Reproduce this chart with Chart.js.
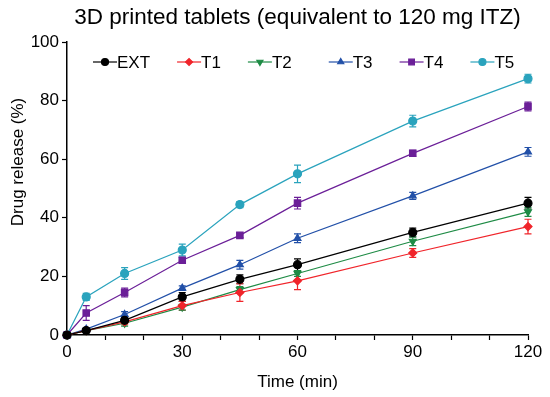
<!DOCTYPE html>
<html>
<head>
<meta charset="utf-8">
<script src="https://cdn.jsdelivr.net/npm/chart.js@4/dist/chart.umd.min.js"></script>
<style>
  html, body { margin: 0; padding: 0; background: #fff; }
  #wrap { width: 550px; height: 397px; }
</style>
</head>
<body>
<div id="wrap"><canvas id="releaseChart"></canvas></div>
<script>
// dissolution profiles
const times = [0, 5, 15, 30, 45, 60, 90, 120]

const ext = [0, 1.5, 5, 13, 19, 24, 35, 45]
const t1 = [0, 1.5, 4.5, 10, 14.5, 18.5, 28, 37]
const t2 = [0, 1.5, 4, 9.5, 15.5, 21, 32, 42]
const t3 = [0, 2, 7, 16, 24, 33, 47.5, 62.5]
const t4 = [0, 7.5, 14.5, 25.5, 34, 45, 62, 78]
const t5 = [0, 13, 21, 29, 44.5, 55, 73, 87.5]

// standard deviations (error bars)
const extSd = [0, 0.5, 1, 1.5, 1.5, 2, 1.5, 2]
const t1Sd = [0, 0.5, 1, 1.5, 3, 3, 1.5, 2.5]
const t2Sd = [0, 0.5, 1, 1, 1, 1, 1.5, 1.5]
const t3Sd = [0, 0.5, 1, 0.8, 1.5, 1.5, 1.2, 1.5]
const t4Sd = [0, 2.5, 1.5, 1, 0.8, 2, 1, 1.5]
const t5Sd = [0, 1.2, 2, 2, 1, 3, 2, 1.5]

const yTicks = [0, 20, 40, 60, 80, 100]
const xLabelTicks = [0, 30, 60, 90, 120]

const FONT = 'Arial, "Liberation Sans", sans-serif'

function makeSet(label, values, sd, color, style, rotation) {
    return {
        label: label,
        data: values.map((v, i) => ({ x: times[i], y: v })),
        sd: sd,
        borderColor: color,
        backgroundColor: color,
        pointBackgroundColor: color,
        pointBorderColor: color,
        pointStyle: style,
        rotation: rotation || 0,
        pointRadius: style === 'rect' ? 4.5 : 4,
        borderWidth: 1.2,
        showLine: true,
        fill: false,
        clip: false
    }
}

// error bars drawn through the scales, under the markers
const errorBars = {
    id: 'errorBars',
    beforeDatasetsDraw(chart) {
        const ctx = chart.ctx
        const xs = chart.scales.x, ys = chart.scales.y
        chart.data.datasets.forEach(ds => {
            ctx.save()
            ctx.strokeStyle = ds.borderColor
            ctx.lineWidth = 1.2
            ds.data.forEach((p, i) => {
                const e = ds.sd[i]
                if (!e) return
                const px = xs.getPixelForValue(p.x)
                const top = ys.getPixelForValue(p.y + e)
                const bot = ys.getPixelForValue(p.y - e)
                ctx.beginPath()
                ctx.moveTo(px, top); ctx.lineTo(px, bot)
                ctx.moveTo(px - 3.5, top); ctx.lineTo(px + 3.5, top)
                ctx.moveTo(px - 3.5, bot); ctx.lineTo(px + 3.5, bot)
                ctx.stroke()
            })
            ctx.restore()
        })
    }
}

// legend inside the plot: line + marker + label
const innerLegend = {
    id: 'innerLegend',
    afterDraw(chart) {
        const ctx = chart.ctx
        const area = chart.chartArea
        let x = area.left + 26
        const y = area.top + 20
        ctx.save()
        ctx.font = '17px ' + FONT
        ctx.textBaseline = 'middle'
        chart.data.datasets.forEach((ds, i) => {
            ctx.strokeStyle = ds.borderColor
            ctx.lineWidth = 1.2
            ctx.beginPath()
            ctx.moveTo(x, y); ctx.lineTo(x + 24, y)
            ctx.stroke()
            ctx.fillStyle = ds.borderColor
            Chart.helpers.drawPoint(ctx, {
                pointStyle: ds.pointStyle, rotation: ds.rotation,
                radius: ds.pointRadius - 0.5, borderWidth: 1
            }, x + 12, y)
            ctx.fillStyle = '#000'
            ctx.fillText(ds.label, x + 24, y + 1)
            // the original has a wider gap after T2
            x += 24 + ctx.measureText(ds.label).width + (i === 2 ? 37 : 27)
        })
        ctx.restore()
    }
}

// y axis title sits above the middle of the axis in the original
const yTitle = {
    id: 'yTitle',
    afterDraw(chart) {
        const ctx = chart.ctx
        const area = chart.chartArea
        ctx.save()
        ctx.translate(18, area.top + 120)
        ctx.rotate(-Math.PI / 2)
        ctx.font = '17px ' + FONT
        ctx.fillStyle = '#000'
        ctx.textAlign = 'center'
        ctx.textBaseline = 'middle'
        ctx.fillText('Drug release (%)', 0, 0)
        ctx.restore()
    }
}

const canvas = document.getElementById('releaseChart').getContext('2d')
const chart = new Chart(canvas, {
    type: 'scatter',
    data: {
        datasets: [
            makeSet('EXT', ext, extSd, '#000000', 'circle'),
            makeSet('T1', t1, t1Sd, '#f0242a', 'rectRot'),
            makeSet('T2', t2, t2Sd, '#1e8b45', 'triangle', 180),
            makeSet('T3', t3, t3Sd, '#2250a8', 'triangle'),
            makeSet('T4', t4, t4Sd, '#6b1f98', 'rect'),
            makeSet('T5', t5, t5Sd, '#2aa3bd', 'circle')
        ]
    },
    options: {
        responsive: true,
        maintainAspectRatio: false,
        animation: false,
        layout: { padding: { left: 0, right: 22, top: 0, bottom: 0 } },
        plugins: {
            legend: { display: false },
            tooltip: { enabled: false },
            title: {
                display: true,
                fullSize: false,
                text: '3D printed tablets (equivalent to 120 mg ITZ)',
                color: '#000',
                font: { family: FONT, size: 22.5, weight: 'normal', lineHeight: 1.2 },
                padding: { top: 4, bottom: 11 }
            }
        },
        scales: {
            x: {
                type: 'linear',
                min: 0, max: 120,
                afterBuildTicks(scale) {
                    const t = []
                    for (let v = 0; v <= 120; v += 10) t.push({ value: v })
                    scale.ticks = t
                },
                afterFit(scale) { scale.height = 62 },
                grid: { drawOnChartArea: false, color: '#000', tickLength: 5, tickColor: '#000', tickWidth: 1.2 },
                border: { color: '#000', width: 1.5 },
                ticks: {
                    color: '#000',
                    font: { family: FONT, size: 17 },
                    padding: 2,
                    maxRotation: 0,
                    autoSkip: false,
                    callback: v => xLabelTicks.includes(v) ? String(v) : ''
                },
                title: {
                    display: true, text: 'Time (min)', color: '#000',
                    font: { family: FONT, size: 17 }, padding: { top: 2 }
                }
            },
            y: {
                min: 0, max: 100,
                afterBuildTicks(scale) { scale.ticks = yTicks.map(v => ({ value: v })) },
                afterFit(scale) { scale.width = 67 },
                grid: { drawOnChartArea: false, tickLength: 5, tickColor: '#000', tickWidth: 1.2 },
                border: { color: '#000', width: 1.5 },
                ticks: {
                    color: '#000',
                    font: { family: FONT, size: 17 },
                    padding: 3
                },
                title: { display: false }
            }
        }
    },
    plugins: [errorBars, innerLegend, yTitle]
})
</script>
</body>
</html>
